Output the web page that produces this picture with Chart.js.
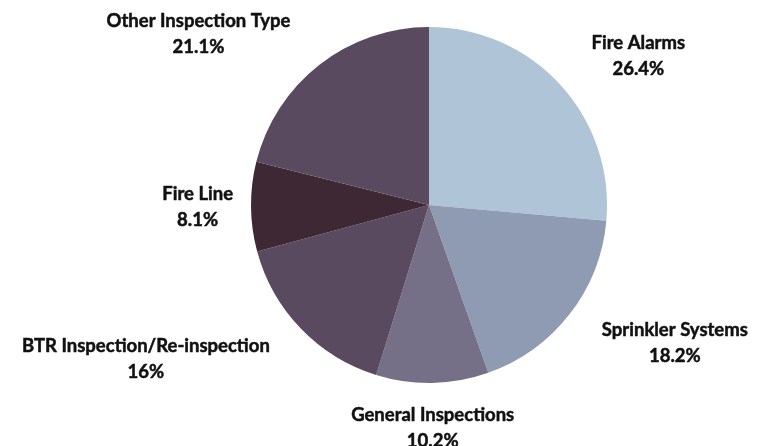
<!DOCTYPE html>
<html>
<head>
<meta charset="utf-8">
<script src="https://cdn.jsdelivr.net/npm/chart.js@4/dist/chart.umd.min.js"></script>
<style>
  html, body { margin: 0; padding: 0; background: #ffffff; }
  #wrap { width: 774px; height: 446px; position: relative; }
</style>
</head>
<body>
<div id="wrap"><canvas id="inspection-chart"></canvas></div>
<script>
// Chart data
const categories = [
    "Fire Alarms",
    "Sprinkler Systems",
    "General Inspections",
    "BTR Inspection/Re-inspection",
    "Fire Line",
    "Other Inspection Type"
];
const shares = [26.4, 18.2, 10.2, 16, 8.1, 21.1];
const sliceColors = ["#afc4d7", "#8f9bb2", "#756f87", "#594a5f", "#3d2834", "#594a5f"];

// Draw the outside labels (name + percent) for each slice
const outsideLabels = {
    id: "outsideLabels",
    afterDatasetsDraw(chart) {
        const ctx = chart.ctx;
        const meta = chart.getDatasetMeta(0);
        const gap = 18;       // distance from the pie edge
        const lineGap = 26;   // distance between the two text lines
        const capHalf = 6.6;  // half of the cap height
        const h = lineGap + 26;
        ctx.save();
        ctx.font = "bold 18.5px Lato, 'Open Sans', sans-serif";
        ctx.fillStyle = "#111111";
        ctx.strokeStyle = "#111111";
        ctx.lineWidth = 0.5;
        ctx.textAlign = "center";
        ctx.textBaseline = "alphabetic";
        meta.data.forEach((arc, i) => {
            const mid = (arc.startAngle + arc.endAngle) / 2;
            const dx = Math.cos(mid);
            const dy = Math.sin(mid);
            let ax = arc.x + dx * (arc.outerRadius + gap);
            let ay = arc.y + dy * (arc.outerRadius + gap);
            const lines = [categories[i], shares[i] + "%"];
            const w = Math.max(...lines.map(t => ctx.measureText(t).width));

            // diagonal labels sit a bit further out sideways and closer vertically
            const diagonal = Math.abs(dx) > 0.3 && Math.abs(dy) > 0.3;
            if (diagonal) {
                ax += Math.sign(dx) * 18;
                ay -= Math.sign(dy) * 9;
            }

            // Place the text box so its nearest side touches the anchor
            let cx = ax;
            if (dx > 0.3) cx = ax + w / 2;
            else if (dx < -0.3) cx = ax - w / 2;
            let top = ay - h / 2;
            if (dy > 0.3) top = ay;
            else if (dy < -0.3) top = ay - h;

            lines.forEach((t, k) => {
                const y = top + 13 + k * lineGap + capHalf;
                ctx.fillText(t, cx, y);
                ctx.strokeText(t, cx, y); // a little heavier, like the original
            });
        });
        ctx.restore();
    }
};

const ctx = document.getElementById("inspection-chart").getContext("2d");
new Chart(ctx, {
    type: "pie",
    data: {
        labels: categories,
        datasets: [{
            data: shares,
            backgroundColor: sliceColors,
            borderWidth: 0
        }]
    },
    options: {
        responsive: true,
        maintainAspectRatio: false,
        animation: false,
        layout: {
            padding: { top: 27, bottom: 63, left: 251, right: 167 }
        },
        plugins: {
            legend: { display: false },
            tooltip: { enabled: false }
        }
    },
    plugins: [outsideLabels]
});
</script>
</body>
</html>
